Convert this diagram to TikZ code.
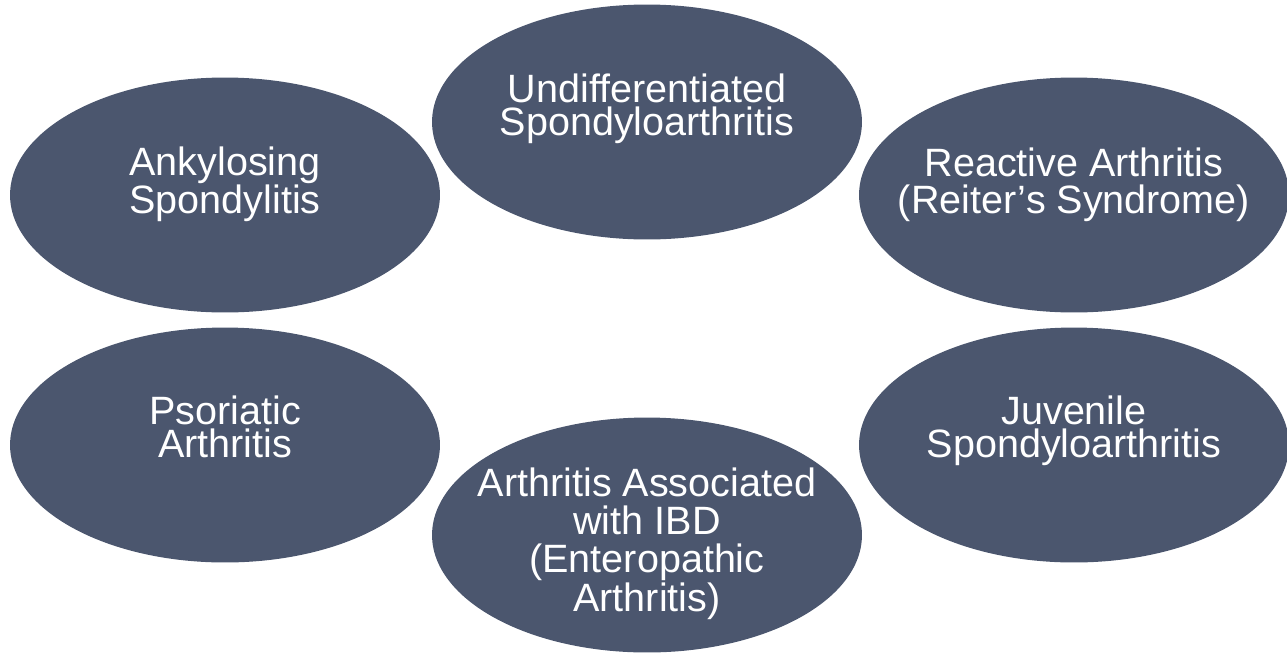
\documentclass[tikz,border=0pt]{standalone}
\usepackage{fontspec}
\setmainfont{Liberation Sans}
\usetikzlibrary{shapes.geometric}

\definecolor{slate}{RGB}{75,86,110}

\tikzset{
	spa/.style={ellipse, fill=slate, draw=none, inner sep=0pt, minimum width=8.6cm, minimum height=4.7cm},
	spatxt/.style={anchor=north, inner sep=0pt, text=white, align=center, font=\fontsize{22.5pt}{18.8pt}\selectfont},
	loose/.style={font=\fontsize{22.5pt}{21.4pt}\selectfont}
}

\begin{document}
\begin{tikzpicture}[x = 0.02cm, y = -0.02cm]
	\useasboundingbox (0, 0) rectangle (1287, 653);
	
	% Top row
	\node[spa] (as) at (225, 195) {};
	\node[spa] (usp) at (647, 122) {};
	\node[spa] (rea) at (1074, 195) {};
	
	% Bottom row
	\node[spa] (psa) at (225, 445) {};
	\node[spa] (ibd) at (647, 535) {};
	\node[spa] (jsp) at (1074, 445) {};
	
	% Labels
	\node[spatxt] (as-t) at (225, 146) {Ankylosing\\Spondylitis};
	\node[spatxt] (usp-t) at (647, 73) {Undifferentiated\\Spondyloarthritis};
	\node[spatxt, loose] (rea-t) at (1074, 147) {Reactive Arthritis\\(Reiter’s Syndrome)};
	
	\node[spatxt] (psa-t) at (225, 395) {Psoriatic\\Arthritis};
	\node[spatxt, font=\fontsize{22.5pt}{21.9pt}\selectfont] (ibd-t) at (647, 467) {Arthritis Associated\\with IBD\\(Enteropathic\\Arthritis)};
	\node[spatxt] (jsp-t) at (1074, 395) {Juvenile\\Spondyloarthritis};
\end{tikzpicture}
\end{document}
